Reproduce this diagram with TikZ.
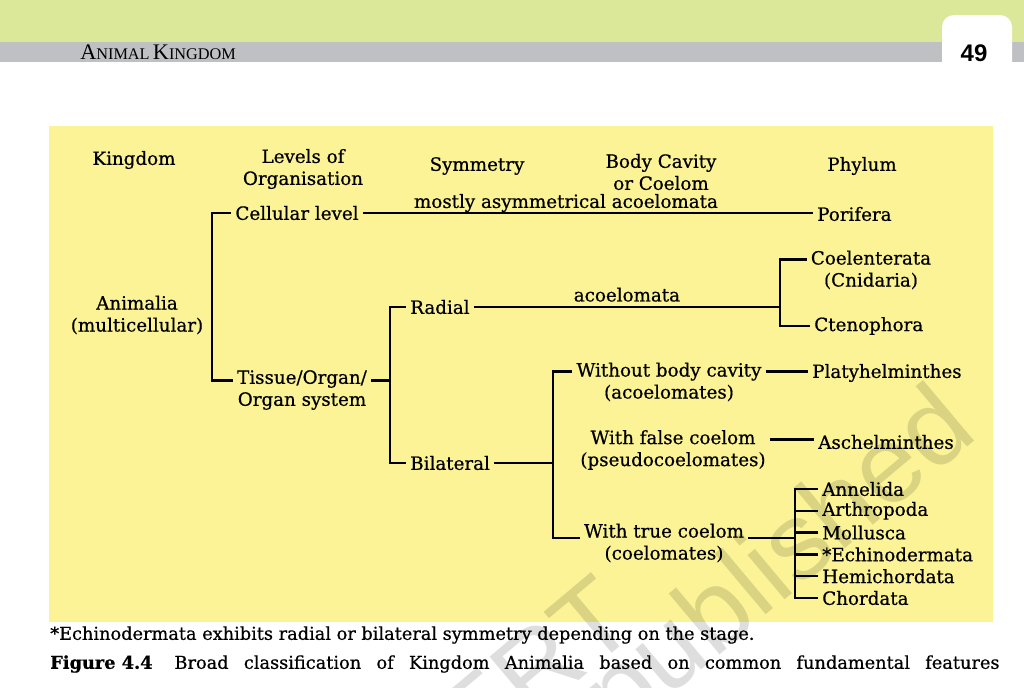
\documentclass[tikz,border=0pt]{standalone}
\usepackage{fontspec}
\setmainfont{DejaVu Serif}[FakeBold=0.6]
\newfontfamily\headfont{Liberation Serif}
\newfontfamily\pagefont{Liberation Sans}
\newfontfamily\markfont{Liberation Sans}
\definecolor{bandgreen}{RGB}{220,232,153}
\definecolor{bandgrey}{RGB}{191,192,196}
\definecolor{boxyellow}{RGB}{251,243,150}

\tikzset{
lbl/.style={font=\fontsize{13.7}{16.5}\selectfont, inner sep=3pt},
twoline/.style={lbl, align=center},
branch/.style={line width=1.9pt},
stamp/.style={rotate=40, anchor=base east, inner sep=0pt, opacity=0.13, font=\markfont\fontsize{82}{82}\selectfont},
}

\begin{document}
\begin{tikzpicture}[x=0.75pt, y=-0.75pt]
\useasboundingbox (0,0) rectangle (1024,687);
% page head
\fill[bandgreen] (0,0) rectangle (1024,42);
\fill[bandgrey] (0,42) rectangle (1024,62);
\fill[white] (942,70) [rounded corners=9pt] -- (942,15) -- (1012,15) [sharp corners] -- (1012,70) -- cycle;
\node[anchor=base west, inner sep=0pt, font=\headfont] (runhead) at (80,59)
{{\fontsize{16.7}{16}\selectfont A}{\fontsize{12.2}{12}\selectfont NIMAL} {\fontsize{16.7}{16}\selectfont K}{\fontsize{12.2}{12}\selectfont INGDOM}};
\node[font=\pagefont\bfseries\fontsize{18}{18}\selectfont] (pageno) at (974,53) {49};

% yellow panel
\fill[boxyellow] (49,126) rectangle (993,622);

% column heads
\node[lbl] (hKing) at (134,160) {Kingdom};
\node[twoline] (hLevel) at (303,169) {Levels of\\Organisation};
\node[lbl] (hSym) at (477,166) {Symmetry};
\node[twoline] (hBody) at (661,172) {Body Cavity\\or Coelom};
\node[lbl] (hPhy) at (862,166) {Phylum};

% kingdom
\node[twoline] (animalia) at (137,315) {Animalia\\(multicellular)};

% levels of organisation
\node[lbl] (cell) at (297,213) {Cellular level};
\node[twoline] (tissue) at (302,390) {Tissue/Organ/\\Organ system};

% symmetry
\node[lbl, anchor=west] (radial) at (406,307) {Radial};
\node[lbl, anchor=west] (bilat) at (406,463) {Bilateral};
\node[lbl] (asym) at (566,203) {mostly asymmetrical acoelomata};

% body cavity
\node[twoline] (nocav) at (669,382) {Without body cavity\\(acoelomates)};
\node[twoline] (falsec) at (673,450) {With false coelom\\(pseudocoelomates)};
\node[twoline] (truec) at (664,543) {With true coelom\\(coelomates)};

% phyla
\node[lbl, anchor=west] (porif) at (813,214) {Porifera};
\node[twoline] (coelent) at (871,270) {Coelenterata\\(Cnidaria)};
\node[lbl, anchor=west] (cteno) at (810,326) {Ctenophora};
\node[lbl, anchor=west] (platy) at (808,373) {Platyhelminthes};
\node[lbl, anchor=west] (aschel) at (814,442) {Aschelminthes};
\foreach \nm/\txt [count=\i from 0] in {annel/Annelida, arthro/Arthropoda, mollus/Mollusca,
echino/*Echinodermata, hemi/Hemichordata, chord/Chordata}
\node[lbl, anchor=west] (\nm) at (818,489+21.8*\i) {\txt};

% junctions
\coordinate (kj) at (212,298);
\coordinate (sj) at (390,383);
\coordinate (cj) at (780,307);
\coordinate (bj) at (553,463);
\coordinate (pj) at (795,543);
\coordinate (nocavE) at ([yshift=-10pt]nocav.north east);
\coordinate (falsecE) at ([yshift=-10pt]falsec.north east);

% branches
\draw[branch] (cell.west) -| (kj) |- ([yshift=-11pt]tissue.north west);
\draw[branch] (cell.east) -- (cell.east -| porif.west);
\draw[branch] ([yshift=-11pt]tissue.north east) -| (sj);
\draw[branch] (radial.west) -| (sj) |- (bilat.west);
\draw[branch] (radial.east) -- node[lbl, above=0pt] (acoel) {acoelomata} (radial.east -| cj);
\draw[branch] ([yshift=-10pt]coelent.north west) -| (cj) |- (cteno.west);
\draw[branch] (bilat.east) -| (bj);
\draw[branch] ([yshift=-10pt]nocav.north west) -| (bj) |- ([yshift=-14pt]truec.north west);
\draw[branch] (nocavE) -- (nocavE -| platy.west);
\draw[branch] (falsecE) -- (falsecE -| aschel.west);
\draw[branch] ([yshift=-14pt]truec.north east) -| (pj);
\draw[branch] (annel.west) -| (pj) |- (chord.west);
\foreach \nm in {arthro, mollus, echino, hemi}
\draw[branch] (\nm.west) -- (\nm.west -| pj);

% notes below the panel
\node[lbl, anchor=west, inner sep=0pt, font=\fontsize{13.3}{16}\selectfont] (fnote) at (50,635)
{*Echinodermata exhibits radial or bilateral symmetry depending on the stage.};
\node[lbl, anchor=west, inner sep=0pt, font=\fontsize{13.3}{16}\selectfont] (caption) at (50,664)
{\makebox[712pt][s]{\mbox{\textbf{Figure 4.4}}\hspace{5pt} Broad classification of Kingdom Animalia based on common fundamental features}};

% watermark
\node[stamp] (stampA) at (642,628) {©NCERT};
\node[stamp] (stampB) at (980,436) {not to be republished};
\end{tikzpicture}
\end{document}
